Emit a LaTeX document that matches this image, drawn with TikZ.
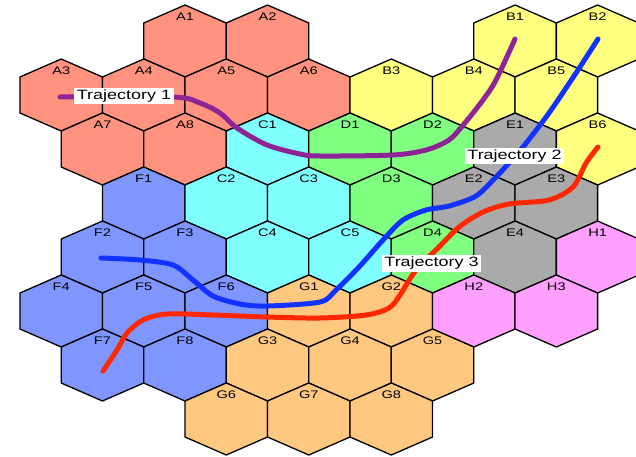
\documentclass[tikz,border=0pt]{standalone}
\usepackage{fontspec}
\setmainfont{Liberation Sans}[FakeStretch=1.33]
\usepackage{xcolor}
\definecolor{hexA}{RGB}{255,147,128}
\definecolor{hexB}{RGB}{255,255,128}
\definecolor{hexC}{RGB}{128,255,255}
\definecolor{hexD}{RGB}{128,255,128}
\definecolor{hexE}{RGB}{170,170,170}
\definecolor{hexF}{RGB}{128,150,255}
\definecolor{hexG}{RGB}{255,200,128}
\definecolor{hexH}{RGB}{255,160,255}
\definecolor{trajpurple}{RGB}{142,36,150}
\definecolor{trajblue}{RGB}{18,50,255}
\definecolor{trajred}{RGB}{255,40,0}
\tikzset{
  hexcell/.style={draw=black,line width=1.3pt,line join=miter},
  hexlabel/.style={font=\fontsize{11}{13}\selectfont,inner sep=0pt},
  trajline/.style={line width=5pt,line cap=round},
  trajlabel/.style={fill=white,font=\fontsize{13.5}{15}\selectfont,inner xsep=2.5pt,inner ysep=2.2pt}
}
\begin{document}
\begin{tikzpicture}[x=1pt,y=-1pt]
\clip (0,0) rectangle (636,456);
\foreach \k/\r/\g/\n in {0/0/A/1,2/0/A/2,8/0/B/1,10/0/B/2,
  -3/1/A/3,-1/1/A/4,1/1/A/5,3/1/A/6,5/1/B/3,7/1/B/4,9/1/B/5,
  -2/2/A/7,0/2/A/8,2/2/C/1,4/2/D/1,6/2/D/2,8/2/E/1,10/2/B/6,
  -1/3/F/1,1/3/C/2,3/3/C/3,5/3/D/3,7/3/E/2,9/3/E/3,
  -2/4/F/2,0/4/F/3,2/4/C/4,4/4/C/5,6/4/D/4,8/4/E/4,10/4/H/1,
  -3/5/F/4,-1/5/F/5,1/5/F/6,3/5/G/1,5/5/G/2,7/5/H/2,9/5/H/3,
  -2/6/F/7,0/6/F/8,2/6/G/3,4/6/G/4,6/6/G/5,
  1/7/G/6,3/7/G/7,5/7/G/8}{
  \begin{scope}[shift={(185+41.26*\k,41+54*\r)}]
    \draw[hexcell,fill=hex\g] (0,-36) -- (41.26,-18) -- (41.26,18) -- (0,36) -- (-41.26,18) -- (-41.26,-18) -- cycle;
    \node[hexlabel] (\g\n) at (0,-24) {\g\n};
  \end{scope}
}
% trajectories
\draw[trajline,trajpurple] plot[smooth] coordinates {(60,97) (173,97) (200,103) (220,113) (237,128) (267,145) (300,154) (320,156) (393,155) (426,150) (449,140) (464,124) (483,100) (496,80) (515,39)};
\draw[trajline,trajblue] plot[smooth] coordinates {(101,258) (140,260) (173,265) (193,280) (213,296) (240,304) (267,306) (320,302) (336,290) (359,267) (383,240) (403,220) (426,210) (449,206) (476,196) (496,177) (509,163) (523,147) (549,113) (576,73) (598,39)};
\draw[trajline,trajred] plot[smooth] coordinates {(103,371) (117,350) (127,333) (143,320) (167,314) (213,315) (267,317) (320,318) (366,315) (389,308) (400,295) (416,270) (439,247) (459,227) (483,212) (509,204) (549,200) (573,187) (586,163) (598,147)};
\node[trajlabel] (traj1) at (124,96) {Trajectory 1};
\node[trajlabel] (traj2) at (514.5,156) {Trajectory 2};
\node[trajlabel] (traj3) at (431.5,263) {Trajectory 3};
\end{tikzpicture}
\end{document}
